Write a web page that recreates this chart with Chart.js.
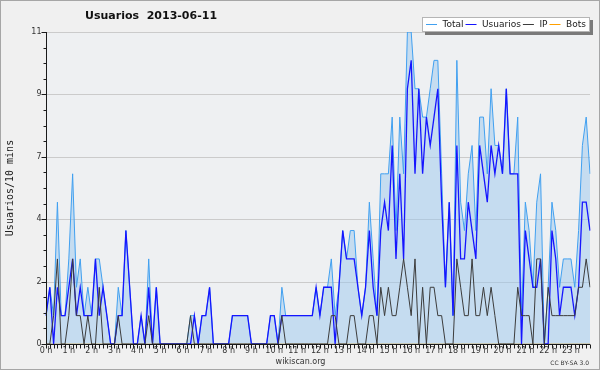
<!DOCTYPE html>
<html>
<head>
<meta charset="utf-8">
<script src="https://cdn.jsdelivr.net/npm/chart.js@4/dist/chart.umd.min.js"></script>
<style>
html,body{margin:0;padding:0;background:#f0f0f0;}
canvas{display:block;}
</style>
</head>
<body>
<canvas id="c" width="600" height="370"></canvas>
<script>
// ---- data (10-minute slots, 2013-06-11) ----
const titleText = 'Usuarios  2013-06-11';
const yAxisTitle = 'Usuarios/10 mins';
const hourLabels = ['0 h','1 h','2 h','3 h','4 h','5 h','6 h','7 h','8 h','9 h','10 h','11 h',
  '12 h','13 h','14 h','15 h','16 h','17 h','18 h','19 h','20 h','21 h','22 h','23 h'];
const yTickValues = [0, 2.2, 4.4, 6.6, 8.8, 11];
const yTickLabels = ['0', '2', '4', '7', '9', '11'];

const total = [
  1,2,1,5,1,1, 3,6,2,3,1,2, 1,3,3,2,1,0, 0,2,1,4,2,0, 0,1,0,3,0,2, 0,0,0,0,0,0,
  0,0,1,1,0,1, 1,2,0,0,0,0, 0,1,1,1,1,1, 0,0,0,0,0,1, 1,0,2,1,1,1, 1,1,1,1,1,2,
  1,2,2,3,1,2, 4,3,4,4,2,1, 2,5,3,1,6,6, 6,8,4,8,6,11, 11,9,9,8,8,9, 10,10,6,2,5,1,
  10,5,4,6,7,4, 8,8,6,9,7,7, 6,9,6,6,8,1, 5,4,2,5,6,0, 2,5,4,2,3,3, 3,2,4,7,8,6
];
const usuarios = [
  1,2,0,2,1,1, 2,3,1,2,1,1, 1,3,1,2,1,0, 0,1,1,4,2,0, 0,1,0,2,0,2, 0,0,0,0,0,0,
  0,0,0,1,0,1, 1,2,0,0,0,0, 0,1,1,1,1,1, 0,0,0,0,0,1, 1,0,1,1,1,1, 1,1,1,1,1,2,
  1,2,2,2,0,2, 4,3,3,3,2,1, 2,4,2,1,4,5, 4,7,3,6,3,9, 10,6,9,6,8,7, 8,9,5,2,5,1,
  7,3,3,5,4,3, 7,6,5,7,6,7, 6,9,6,6,6,0, 4,3,2,2,3,0, 0,4,3,1,2,2, 2,1,2,5,5,4
];
const ip = [
  0,0,1,3,0,0, 1,3,1,1,0,1, 0,0,2,0,0,0, 0,1,0,0,0,0, 0,0,0,1,0,0, 0,0,0,0,0,0,
  0,0,1,0,0,0, 0,0,0,0,0,0, 0,0,0,0,0,0, 0,0,0,0,0,0, 0,0,1,0,0,0, 0,0,0,0,0,0,
  0,0,0,1,1,0, 0,0,1,1,0,0, 0,1,1,0,2,1, 2,1,1,2,3,2, 1,3,0,2,0,2, 2,1,1,0,0,0,
  3,2,1,1,3,1, 1,2,1,2,1,0, 0,0,0,0,2,1, 1,1,0,3,3,0, 2,1,1,1,1,1, 1,1,2,2,3,2
];
const bots = [
  0,0,0,0,0,0, 0,0,0,0,0,0, 0,0,0,0,0,0, 0,0,0,0,0,0, 0,0,0,0,0,0, 0,0,0,0,0,0,
  0,0,0,0,0,0, 0,0,0,0,0,0, 0,0,0,0,0,0, 0,0,0,0,0,0, 0,0,0,0,0,0, 0,0,0,0,0,0,
  0,0,0,0,0,0, 0,0,0,0,0,0, 0,0,0,0,0,0, 0,0,0,0,0,0, 0,0,0,0,0,0, 0,0,0,0,0,0,
  0,0,0,0,0,0, 0,0,0,0,0,0, 0,0,0,0,0,0, 0,0,0,0,0,0, 0,0,0,0,0,0, 0,0,0,0,0,0
];
// category slots: 6 per hour
const categories = [];
for (let h = 0; h < hourLabels.length; h++) {
  for (let m = 0; m < 6; m++) categories.push(h + ':' + m + '0');
}

const FONT = '"DejaVu Sans", Verdana, sans-serif';

const decor = {
  id: 'decor',
  beforeDraw(chart) {
    const ctx = chart.ctx, a = chart.chartArea;
    ctx.save();
    ctx.fillStyle = '#f0f0f0';
    ctx.fillRect(0, 0, chart.width, chart.height);
    ctx.fillStyle = '#eef0f2';
    ctx.fillRect(a.left, a.top, a.right - a.left, a.bottom - a.top);
    ctx.restore();
  },
  beforeDatasetsDraw(chart) {
    const ctx = chart.ctx, a = chart.chartArea, ys = chart.scales.y;
    ctx.save();
    ctx.strokeStyle = '#cbcbcb';
    ctx.lineWidth = 1;
    yTickValues.forEach(v => {
      if (v === 0) return;
      const y = Math.round(ys.getPixelForValue(v)) + 0.5;
      ctx.beginPath(); ctx.moveTo(a.left, y); ctx.lineTo(a.right, y); ctx.stroke();
    });
    ctx.restore();
  },
  afterDatasetsDraw(chart) {
    const ctx = chart.ctx, a = chart.chartArea, ys = chart.scales.y, xs = chart.scales.x;
    ctx.save();
    const ax = Math.round(a.left) + 0.5, ay = Math.round(a.bottom) + 0.5;
    ctx.strokeStyle = '#1a1a1a';
    ctx.lineWidth = 1;
    // axes
    ctx.beginPath();
    ctx.moveTo(ax, Math.round(a.top)); ctx.lineTo(ax, ay);
    ctx.lineTo(Math.round(a.right), ay);
    ctx.stroke();
    // y ticks (major + minor)
    for (let k = 0; k <= 20; k++) {
      const v = 11 * k / 20;
      const y = Math.round(ys.getPixelForValue(v)) + 0.5;
      const len = (k % 4 === 0) ? 5 : 3;
      ctx.beginPath(); ctx.moveTo(ax - len, y); ctx.lineTo(ax, y); ctx.stroke();
    }
    // x ticks every slot
    for (let i = 0; i < categories.length; i++) {
      const x = Math.round(xs.getPixelForValue(i)) + 0.5;
      ctx.beginPath(); ctx.moveTo(x, ay); ctx.lineTo(x, ay + 4); ctx.stroke();
    }
    // y labels
    ctx.fillStyle = '#333';
    ctx.font = '8px ' + FONT;
    ctx.textAlign = 'right'; ctx.textBaseline = 'middle';
    yTickValues.forEach((v, idx) => {
      ctx.fillText(yTickLabels[idx], ax - 5, ys.getPixelForValue(v));
    });
    // x labels
    ctx.textAlign = 'center';
    hourLabels.forEach((lab, h) => {
      ctx.fillText(lab, xs.getPixelForValue(h * 6), 351);
    });
    // y axis title
    ctx.save();
    ctx.translate(10, 188);
    ctx.rotate(-Math.PI / 2);
    ctx.font = '10px "DejaVu Sans Mono", monospace';
    ctx.fillStyle = '#222';
    ctx.textAlign = 'center'; ctx.textBaseline = 'middle';
    ctx.fillText(yAxisTitle, 0, 0);
    ctx.restore();
    // title
    ctx.fillStyle = '#111';
    ctx.font = 'bold 11px ' + FONT;
    ctx.textAlign = 'left'; ctx.textBaseline = 'middle';
    ctx.fillText(titleText, 85, 16.5);
    // footer
    ctx.fillStyle = '#333';
    ctx.font = '8px ' + FONT;
    ctx.textAlign = 'center';
    ctx.fillText('wikiscan.org', 300.5, 362);
    ctx.font = '6px ' + FONT;
    ctx.textAlign = 'right';
    ctx.fillText('CC BY-SA 3.0', 589, 363);
    // legend
    ctx.font = '9px ' + FONT;
    const items = chart.data.datasets.map(d => ({label: d.label, color: d.borderColor}));
    let x = 426;
    const layout = [];
    items.forEach(it => {
      const tx = x + 16.5;
      const w = ctx.measureText(it.label).width;
      layout.push({it, lx: x, tx});
      x = tx + w + 2;
    });
    const bx0 = 422, bx1 = Math.round(x + 2), by0 = 17, by1 = 32;
    ctx.fillStyle = '#7a7a7a';
    ctx.fillRect(bx0 + 3, by0 + 3, bx1 - bx0, by1 - by0);
    ctx.fillStyle = '#ffffff';
    ctx.fillRect(bx0, by0, bx1 - bx0, by1 - by0);
    ctx.strokeStyle = '#b5b5b5';
    ctx.strokeRect(bx0 + 0.5, by0 + 0.5, bx1 - bx0 - 1, by1 - by0 - 1);
    ctx.textAlign = 'left'; ctx.textBaseline = 'middle';
    layout.forEach(o => {
      ctx.strokeStyle = o.it.color;
      ctx.lineWidth = 1;
      ctx.beginPath(); ctx.moveTo(o.lx, 24.5); ctx.lineTo(o.lx + 11, 24.5); ctx.stroke();
      ctx.fillStyle = '#1a1a1a';
      ctx.fillText(o.it.label, o.tx, 24.5);
    });
    // outer border
    ctx.strokeStyle = '#a6a6a6';
    ctx.lineWidth = 1;
    ctx.strokeRect(0.5, 0.5, chart.width - 1, chart.height - 1);
    ctx.restore();
  }
};

new Chart(document.getElementById('c'), {
  type: 'line',
  data: {
    labels: categories,
    datasets: [
      {label: 'Total', data: total, borderColor: '#41a0f0', borderWidth: 1,
       backgroundColor: 'rgba(156,200,238,0.5)', fill: 'origin', order: 4},
      {label: 'Usuarios', data: usuarios, borderColor: '#1515ff', borderWidth: 1.3,
       fill: false, order: 3},
      {label: 'IP', data: ip, borderColor: '#3c3c3c', borderWidth: 1,
       fill: false, order: 2},
      {label: 'Bots', data: bots, borderColor: '#ffa000', borderWidth: 1,
       fill: false, order: 5}
    ]
  },
  options: {
    responsive: false,
    devicePixelRatio: 1,
    animation: false,
    layout: {padding: {left: 46, top: 32, right: 10, bottom: 26}},
    elements: {point: {radius: 0}, line: {tension: 0}},
    plugins: {legend: {display: false}, title: {display: false}, tooltip: {enabled: false}},
    scales: {
      x: {type: 'category', offset: false, display: false},
      y: {min: 0, max: 11, display: false}
    }
  },
  plugins: [decor]
});
</script>
</body>
</html>
